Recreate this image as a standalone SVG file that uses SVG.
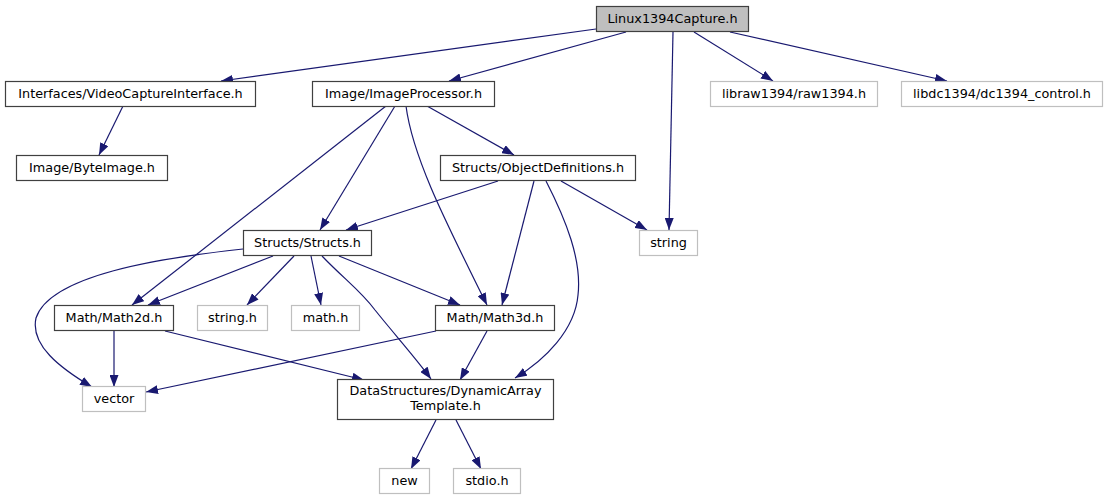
<svg xmlns="http://www.w3.org/2000/svg" width="1107" height="500" viewBox="0 0 1107 500">
<defs>
<marker id="arr" markerUnits="userSpaceOnUse" viewBox="0 0 12 9" refX="12" refY="4.5" markerWidth="12" markerHeight="9" orient="auto">
<path d="M0,0 L12,4.5 L0,9 z" fill="#191970"/>
</marker>
</defs>
<style>
.n rect{fill:#ffffff;stroke:#404040;stroke-width:1.2}
.g rect{fill:#ffffff;stroke:#bfbfbf;stroke-width:1.2}
.main rect{fill:#bfbfbf;stroke:#404040;stroke-width:1.2}
text{font-family:"DejaVu Sans","Liberation Sans",sans-serif;font-size:12.8px;fill:#000000;text-anchor:middle}
#edges path{fill:none;stroke:#191970;stroke-width:1.2;marker-end:url(#arr)}
</style>
<rect width="1107" height="500" fill="#ffffff"/>
<g id="edges">
<path d="M596,29 L221,81"/>
<path d="M626,32 L449,81"/>
<path d="M673,32 L669,230"/>
<path d="M694,32 L773,81"/>
<path d="M730,32 L947,81"/>
<path d="M123,106 L99,155"/>
<path d="M427,106 L514,155"/>
<path d="M386,106 L132,305"/>
<path d="M395,106 L320,230"/>
<path d="M406,106 C413,160 450,230 487,305"/>
<path d="M498,181 L346,230"/>
<path d="M534,181 L502,305"/>
<path d="M546,181 C566,220 582,260 578,295 C575,330 545,360 515,378"/>
<path d="M561,181 L647,230"/>
<path d="M243,249 C160,258 50,275 36,318 C30,345 60,368 92,387"/>
<path d="M273,256 L148,305"/>
<path d="M294,256 L247,305"/>
<path d="M311,256 L321,305"/>
<path d="M322,256 C345,280 360,290 375,310 C395,335 415,357 431,379"/>
<path d="M339,256 L460,305"/>
<path d="M114,331 L114,387"/>
<path d="M165,331 L364,380"/>
<path d="M436,331 L146,392"/>
<path d="M487,331 L460,380"/>
<path d="M436,420 L411,469"/>
<path d="M456,420 L481,469"/>
</g>
<g id="node-linux" class="main"><rect x="596.5" y="6.5" width="152" height="25"/><text x="672.5" y="23">Linux1394Capture.h</text></g>
<g id="node-interfaces" class="n"><rect x="5.5" y="81.5" width="250" height="25"/><text x="130.5" y="98">Interfaces/VideoCaptureInterface.h</text></g>
<g id="node-imageprocessor" class="n"><rect x="312.5" y="81.5" width="182" height="25"/><text x="403.5" y="98">Image/ImageProcessor.h</text></g>
<g id="node-libraw" class="g"><rect x="710.5" y="81.5" width="167" height="25"/><text x="794" y="98">libraw1394/raw1394.h</text></g>
<g id="node-libdc" class="g"><rect x="901.5" y="81.5" width="201" height="25"/><text x="1002" y="98">libdc1394/dc1394_control.h</text></g>
<g id="node-byteimage" class="n"><rect x="16.5" y="155.5" width="151" height="25"/><text x="92" y="172">Image/ByteImage.h</text></g>
<g id="node-objectdefinitions" class="n"><rect x="440.5" y="155.5" width="195" height="25"/><text x="538" y="172">Structs/ObjectDefinitions.h</text></g>
<g id="node-structs" class="n"><rect x="243.5" y="230.5" width="128" height="25"/><text x="307.5" y="247">Structs/Structs.h</text></g>
<g id="node-string" class="g"><rect x="639.5" y="230.5" width="58" height="25"/><text x="668.5" y="247">string</text></g>
<g id="node-math2d" class="n"><rect x="54.5" y="305.5" width="119" height="25"/><text x="114" y="322">Math/Math2d.h</text></g>
<g id="node-stringh" class="g"><rect x="197.5" y="305.5" width="70" height="25"/><text x="232.5" y="322">string.h</text></g>
<g id="node-mathh" class="g"><rect x="291.5" y="305.5" width="68" height="25"/><text x="325.5" y="322">math.h</text></g>
<g id="node-math3d" class="n"><rect x="435.5" y="305.5" width="119" height="25"/><text x="495" y="322">Math/Math3d.h</text></g>
<g id="node-vector" class="g"><rect x="82.5" y="386.5" width="63" height="25"/><text x="114" y="403">vector</text></g>
<g id="node-dynamicarray" class="n"><rect x="337.5" y="379.5" width="216" height="40"/><text x="445.5" y="395">DataStructures/DynamicArray</text><text x="445.5" y="410">Template.h</text></g>
<g id="node-new" class="g"><rect x="379.5" y="468.5" width="50" height="25"/><text x="404.5" y="485">new</text></g>
<g id="node-stdio" class="g"><rect x="453.5" y="468.5" width="67" height="25"/><text x="487" y="485">stdio.h</text></g>
</svg>
